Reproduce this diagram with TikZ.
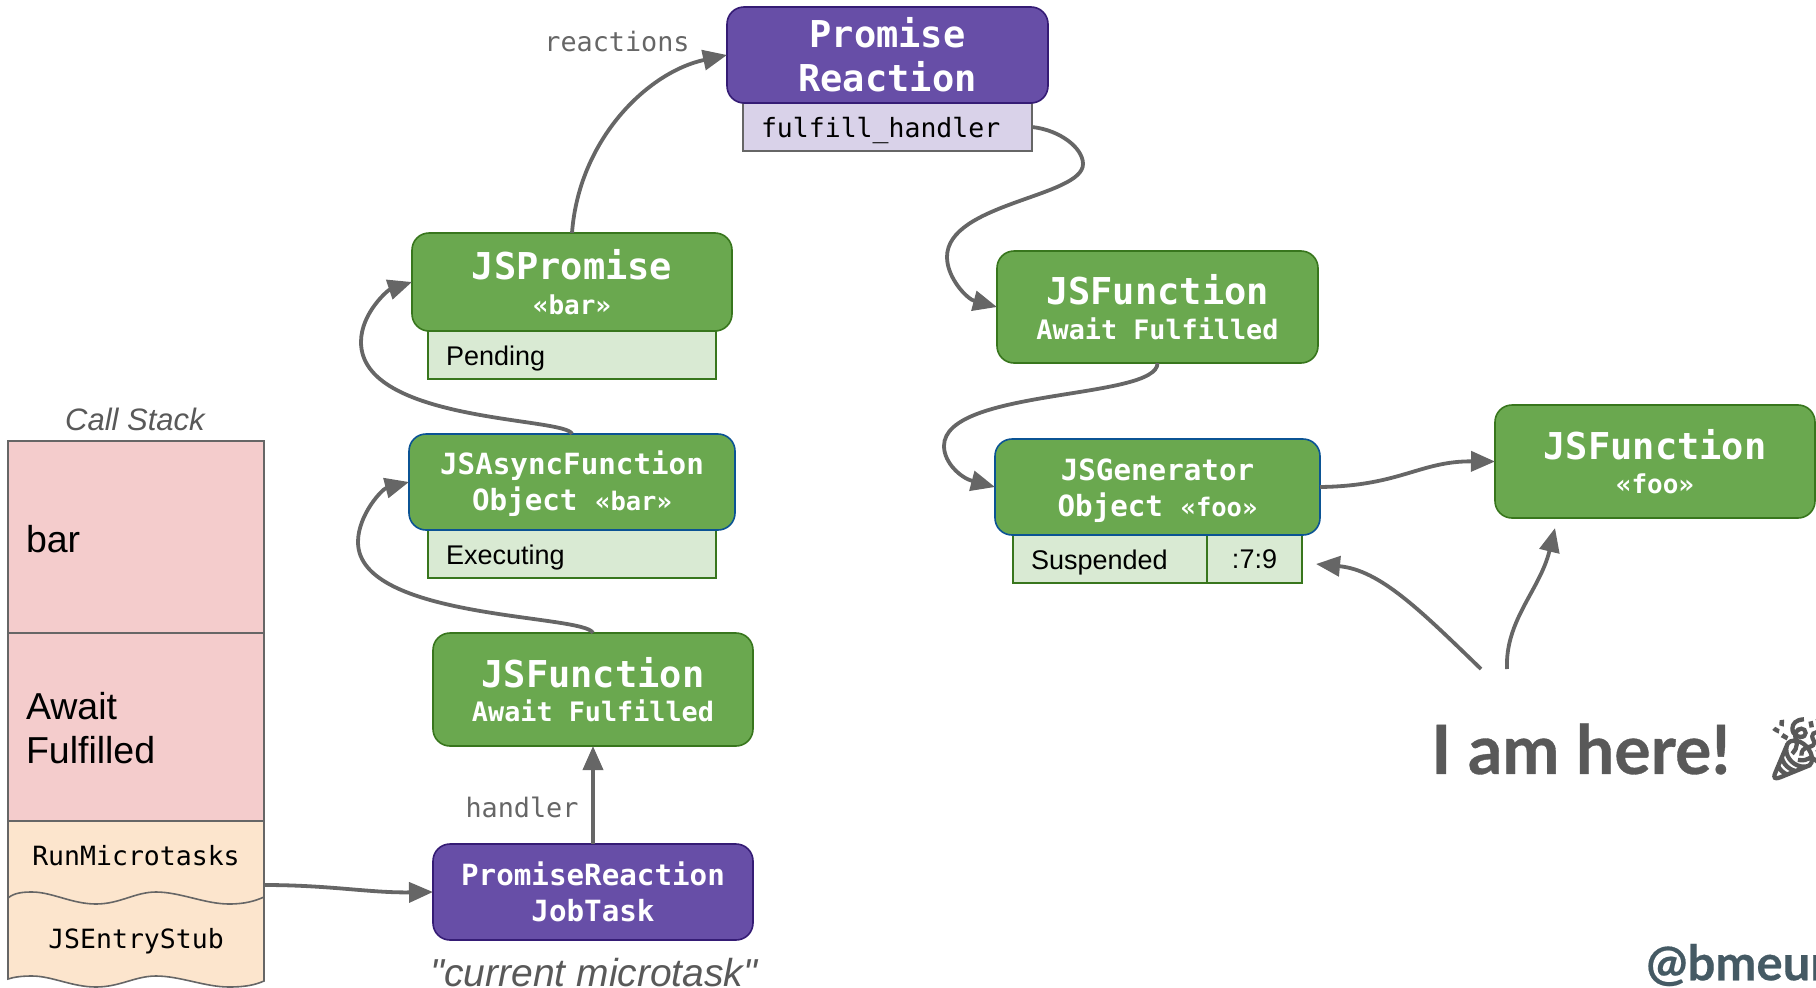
\documentclass[tikz,border=0pt]{standalone}
\usepackage{fontspec}
\setmainfont{Liberation Sans}
\setmonofont{DejaVu Sans Mono}
\newfontfamily\headfont{Lato}
\newfontfamily\emojifont{Noto Emoji}[FakeBold=3]
\newfontfamily\plainsans{Liberation Sans}
\usetikzlibrary{arrows.meta}
\definecolor{purplef}{HTML}{674EA7}
\definecolor{purpled}{HTML}{351C75}
\definecolor{greenf}{HTML}{6AA84F}
\definecolor{greend}{HTML}{38761D}
\definecolor{blued}{HTML}{0B5394}
\definecolor{lgreen}{HTML}{D9EAD3}
\definecolor{lpurple}{HTML}{D9D2E9}
\definecolor{pinkf}{HTML}{F4CCCC}
\definecolor{orangef}{HTML}{FCE5CD}
\definecolor{linegray}{HTML}{666666}
\definecolor{txtgray}{HTML}{595959}
\definecolor{handle}{HTML}{455A64}
\newcommand{\fsz}[2]{\fontsize{#1}{#2}\selectfont}
\newcommand{\nb}[7]{\node[#6,minimum width={(#4-#2)*1pt},minimum height={(#5-#3)*1pt}] (#1) at ({(#2+#4)/2},{(#3+#5)/2}) {#7};}
\tikzset{
  base/.style={inner sep=0pt,outer sep=0pt,align=center,line width=1.6pt},
  obj/.style={base,rounded corners=17pt,text=white,font=\ttfamily\bfseries},
  purplebox/.style={obj,fill=purplef,draw=purpled},
  greenbox/.style={obj,fill=greenf,draw=greend},
  bluebox/.style={obj,fill=greenf,draw=blued},
  statebox/.style={base,fill=lgreen,draw=greend,font=\fsz{27}{32}},
  framebox/.style={base,fill=pinkf,draw=linegray,font=\fsz{37.5}{44}},
  conn/.style={draw=linegray,line width=3.8pt,-{Triangle[length=24pt,width=20pt]}},
  label/.style={inner sep=0pt,text=txtgray}
}
\begin{document}
\begin{tikzpicture}[x=1pt,y=-1pt]
\useasboundingbox (0,0) rectangle (1816,988);
\clip (0,0) rectangle (1816,988);
% call stack
\node[label,font=\itshape\fsz{31}{36}] (callstack) at (135,419) {Call Stack};
\nb{barframe}{8}{441}{264}{633}{framebox,text width=220pt,align=left}{\rule{0pt}{31.5pt}bar}
\nb{awaitframe}{8}{633}{264}{821}{framebox,text width=220pt,align=left}{\rule{0pt}{29pt}Await\\Fulfilled}
\path[fill=orangef,draw=linegray,line width=1.6pt] (8,890) -- (8,979) .. controls (14,977) and (22,976) .. (32,976) .. controls (52,976) and (72,987) .. (96,987) .. controls (120,987) and (135,976) .. (156,976) .. controls (180,976) and (205,987) .. (229,987) .. controls (245,987) and (255,985) .. (264,981) -- (264,890);
\path[fill=orangef,draw=linegray,line width=1.6pt] (8,821) -- (264,821) -- (264,897) .. controls (255,901) and (245,904) .. (229,904) .. controls (205,904) and (180,892) .. (156,892) .. controls (135,892) and (120,904) .. (96,904) .. controls (72,904) and (52,892) .. (32,892) .. controls (22,892) and (14,893) .. (8,898) -- cycle;
\node[inner sep=0pt,font=\ttfamily\fsz{26.5}{30}] (runmicro) at (136,856) {RunMicrotasks};
\node[inner sep=0pt,font=\ttfamily\fsz{26.5}{30}] (entrystub) at (136,941) {JSEntryStub};
\coordinate (stackout) at (264,885);
% boxes
\nb{reactionsub}{743}{103}{1032}{151}{base,fill=lpurple,draw=linegray,font=\ttfamily\fsz{26.5}{30},text width=253pt,align=left}{\rule{0pt}{27.5pt}fulfill\_handler}
\nb{reaction}{727}{7}{1048}{103}{purplebox,font=\ttfamily\bfseries\fsz{37}{44}}{Promise\\Reaction}
\nb{pending}{428}{331}{716}{379}{statebox,text width=252pt,align=left}{\rule{0pt}{26.6pt}Pending}
\nb{jspromise}{412}{233}{732}{331}{greenbox,font=\ttfamily\bfseries\fsz{37}{38}}{\rule{0pt}{30.5pt}JSPromise\\[-3.5pt]{\fsz{26}{30}«bar»}}
\nb{executing}{428}{530}{716}{578}{statebox,text width=252pt,align=left}{\rule{0pt}{26.6pt}Executing}
\nb{jsasync}{409}{434}{735}{530}{bluebox,font=\ttfamily\bfseries\fsz{29.2}{36}}{\rule{0pt}{27pt}JSAsyncFunction\\Object {\fsz{25.5}{30}«bar»}}
\nb{fnleft}{433}{633}{753}{746}{greenbox,font=\ttfamily\bfseries\fsz{37}{38}}{\rule{0pt}{30.5pt}JSFunction\\[-3.5pt]{\fsz{26.8}{30}Await Fulfilled}}
\nb{jobtask}{433}{844}{753}{940}{purplebox,font=\ttfamily\bfseries\fsz{29.2}{36}}{PromiseReaction\\JobTask}
\node[label,font=\plainsans\itshape\fsz{39}{44}] (current) at (594,973) {"current microtask"};
\nb{fnright}{997}{251}{1318}{363}{greenbox,font=\ttfamily\bfseries\fsz{37}{38}}{\rule{0pt}{30.5pt}JSFunction\\[-3.5pt]{\fsz{26.8}{30}Await Fulfilled}}
\nb{suspended}{1013}{535}{1207}{583}{statebox,text width=158pt,align=left}{\rule{0pt}{26.6pt}Suspended}
\nb{position}{1207}{535}{1302}{583}{statebox}{:7:9}
\nb{jsgen}{995}{439}{1320}{535}{bluebox,font=\ttfamily\bfseries\fsz{29.2}{36}}{\rule{0pt}{29pt}JSGenerator\\Object {\fsz{25.5}{30}«foo»}}
\nb{fnfoo}{1495}{405}{1815}{518}{greenbox,font=\ttfamily\bfseries\fsz{37}{38}}{JSFunction\\[-3.5pt]{\fsz{26}{30}«foo»}}
% labels
\node[label,font=\ttfamily\fsz{26.8}{30},text=linegray] (reactionslabel) at (617,42) {reactions};
\node[label,font=\ttfamily\fsz{26.8}{30},text=linegray] (handlerlabel) at (522,807) {handler};
\node[label,anchor=west,font=\headfont\bfseries\addfontfeature{FakeBold=0.5}\fsz{68}{72}] (here) at (1431,749) {I am here!};
\node[label,anchor=west,font=\emojifont\fsz{62}{66}] (party) at (1764,748) {🎉};
\node[anchor=west,inner sep=0pt,text=handle,font=\headfont\bfseries\addfontfeature{FakeBold=0.4}\fsz{49}{52}] (twitter) at (1646,965) {@bmeurer};
\coordinate (hereleft) at (1481,669);
\coordinate (hereright) at (1507,669);
\coordinate (tostate) at (1316,564);
\coordinate (tofoo) at (1555,528);
% connectors
\draw[conn] (jspromise.north) .. controls (579,139) and (648,72) .. (reaction.west);
\draw[conn] (reactionsub.east) .. controls (1060,130) and (1083,148) .. (1083,164) .. controls (1083,197) and (947,203) .. (947,257) .. controls (947,278) and (967,299) .. (fnright.west);
\draw[conn] (fnright.south) .. controls (1158,400) and (944,388) .. (944,446) .. controls (944,463) and (961,478) .. (jsgen.west);
\draw[conn] (jsasync.north) .. controls (567,417) and (361,423) .. (361,342) .. controls (361,313) and (388,290) .. (jspromise.west);
\draw[conn] (fnleft.north) .. controls (585,614) and (358,620) .. (358,542) .. controls (358,515) and (382,489) .. (jsasync.west);
\draw[conn] (jobtask.north) -- (fnleft.south);
\draw[conn] (stackout) .. controls (330,885) and (370,893) .. (jobtask.west);
\draw[conn] (jsgen.east) .. controls (1400,486) and (1420,461) .. (fnfoo.west);
\draw[conn] (hereleft) .. controls (1420,610) and (1380,570) .. (tostate);
\draw[conn] (hereright) .. controls (1505,620) and (1540,590) .. (tofoo);
\end{tikzpicture}
\end{document}
